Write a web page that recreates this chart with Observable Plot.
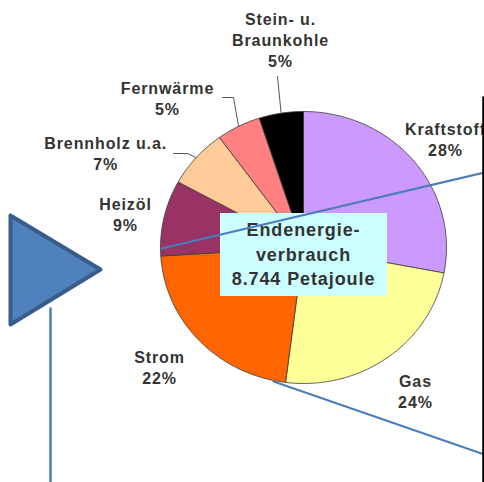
<!DOCTYPE html>
<html><head><meta charset="utf-8">
<script src="https://cdn.jsdelivr.net/npm/d3@7"></script>
<script src="https://cdn.jsdelivr.net/npm/@observablehq/plot@0.6"></script>
<style>html,body{margin:0;padding:0;background:#fff;overflow:hidden} svg{display:block} svg text{letter-spacing:0.9px}</style>
</head><body><div id="chart"></div>
<script>
// ---- data ----
const categories = ["Kraftstoff", "Gas", "Strom", "Heizöl", "Brennholz u.a.", "Fernwärme", "Stein- u.\nBraunkohle"];
const shares = [28, 24, 22, 9, 7, 5, 5];
const colors = ["#CC99FF", "#FFFF99", "#FF6600", "#993366", "#FFCC99", "#FF8080", "#000000"];
const totalPJ = "8.744";
const centerTitle = ["Endenergie-", "verbrauch", totalPJ + " Petajoule"];

// ---- layout (label polar placement: angle deg clockwise from top, radius) ----
const labelPolar = [[51.2, 1.274], [143.3, 1.31], [229, 1.334], [281.4, 1.27], [296.8, 1.55], [319.1, 1.453], [354, 1.538]];
// leader start/elbow points (pixel) for slices with leaders; end point is derived from slice mid-angle
const leaders = {4: [[173, 153], [187, 153]], 5: [[222, 97], [233, 97]], 6: [[277, 76]]};

const CX = 303, CY = 247, RX = 143, RY = 136;
const tx = px => (px - CX) / RX;
const ty = py => (CY - py) / RY;
const rad = d => d * Math.PI / 180;

// slices
const total = d3.sum(shares);
let acc = 0;
const slices = categories.map((c, i) => {
  const a0 = acc / total * 360; acc += shares[i]; const a1 = acc / total * 360;
  return {name: c, a0, a1, mid: (a0 + a1) / 2, share: shares[i], i};
});
const slicePts = [];
for (const s of slices) {
  slicePts.push({name: s.name, x: 0, y: 0});
  const n = Math.max(2, Math.ceil(s.a1 - s.a0));
  for (let k = 0; k <= n; k++) {
    const a = rad(s.a0 + (s.a1 - s.a0) * k / n);
    slicePts.push({name: s.name, x: Math.sin(a), y: Math.cos(a)});
  }
  slicePts.push({name: s.name, x: 0, y: 0});
}
const labelData = slices.map((s, i) => {
  const [ang, r] = labelPolar[i];
  return {x: r * Math.sin(rad(ang)), y: r * Math.cos(rad(ang)), text: s.name + "\n" + s.share + "%"};
});
const leaderPts = [];
for (const [k, pts] of Object.entries(leaders)) {
  const s = slices[+k];
  for (const [px, py] of pts) leaderPts.push({id: k, x: tx(px), y: ty(py)});
  leaderPts.push({id: k, x: Math.sin(rad(s.mid)), y: Math.cos(rad(s.mid))});
}
const tri = [[10, 215], [100, 269], [10, 324], [10, 215]].map(([a, b]) => ({x: tx(a), y: ty(b)}));
const conn = [
  {id: 1, x: tx(161), y: ty(248)}, {id: 1, x: tx(484), y: ty(172)},
  {id: 2, x: tx(273), y: ty(381)}, {id: 2, x: tx(484), y: ty(454)}
];
const vline = [{x: tx(50), y: ty(308)}, {x: tx(50), y: ty(482)}];
const frame = [{x: tx(483), y: ty(97)}, {x: tx(483), y: ty(482)}];

const font = "'Liberation Sans', Arial, sans-serif";
const chart = Plot.plot({
  width: 484, height: 482, margin: 0,
  style: {fontFamily: font, background: "#fff"},
  x: {domain: [-1, 1], range: [160, 446], axis: null},
  y: {domain: [-1, 1], range: [383, 111], axis: null},
  color: {domain: categories, range: colors},
  marks: [
    Plot.line(slicePts, {x: "x", y: "y", z: "name", fill: "name", stroke: "#3a3a3a", strokeWidth: 0.8, curve: "linear"}),
    Plot.line(leaderPts, {x: "x", y: "y", z: "id", stroke: "#555", strokeWidth: 1}),
    Plot.text(labelData, {x: "x", y: "y", text: "text", fontSize: 16, lineHeight: 1.31, fontWeight: "bold", fill: "#333"}),
    Plot.rect([{}], {x1: tx(220), x2: tx(387), y1: ty(213), y2: ty(296), fill: "#CCFFFF"}),
    Plot.text([centerTitle.join("\n")], {x: tx(303), y: ty(252.5), text: d => d, fontSize: 18, lineHeight: 1.36, fontWeight: "bold", fill: "#333"}),
    Plot.line(tri, {x: "x", y: "y", fill: "#4F81BD", stroke: "#385D8A", strokeWidth: 4, strokeLinejoin: "round"}),
    Plot.line(vline, {x: "x", y: "y", stroke: "#4A7EBB", strokeWidth: 2.5}),
    Plot.line(conn, {x: "x", y: "y", z: "id", stroke: "#4A7EBB", strokeWidth: 2}),
    Plot.line(frame, {x: "x", y: "y", stroke: "#000", strokeWidth: 2.5})
  ]
});
document.getElementById("chart").appendChild(chart);
</script>
</body></html>
